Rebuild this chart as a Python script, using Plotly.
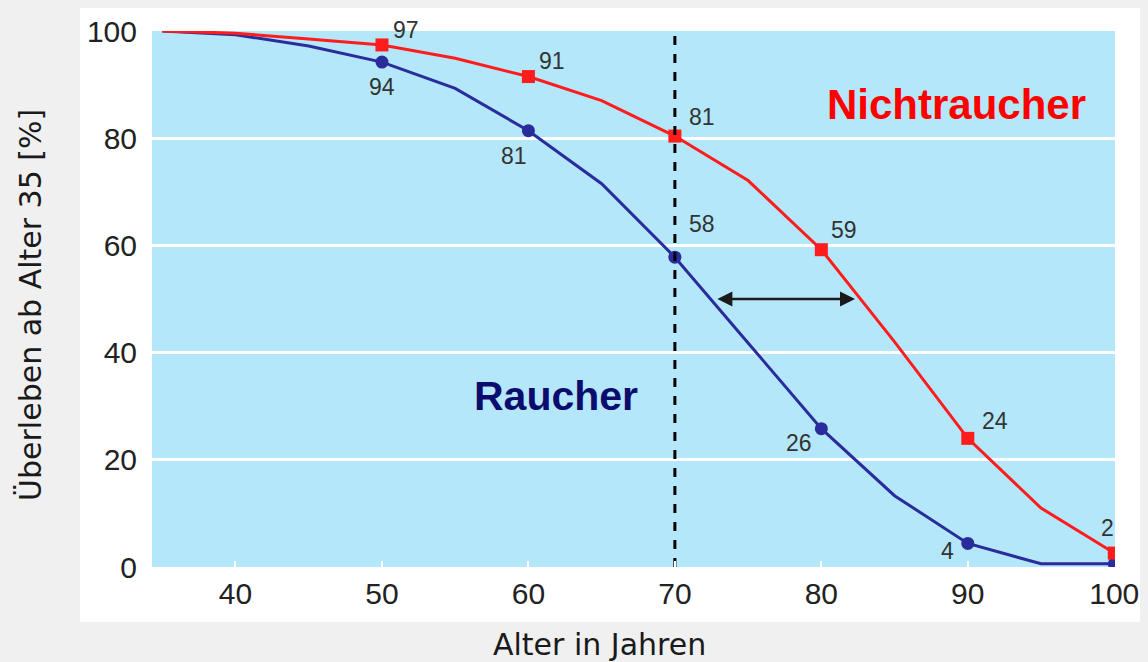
import plotly.graph_objects as go

# ---- data ----
ages = [35, 40, 45, 50, 55, 60, 65, 70, 75, 80, 85, 90, 95, 100]
nichtraucher = [100, 99.6, 98.5, 97.4, 94.9, 91.5, 87.0, 80.4, 72.1, 59.2, 42.0, 24.0, 11.0, 2.6]
raucher = [100, 99.3, 97.2, 94.2, 89.3, 81.4, 71.5, 57.8, 41.8, 25.8, 13.3, 4.4, 0.6, 0.6]
marker_ages = [50, 60, 70, 80, 90, 100]
nicht_labels = ["97", "91", "81", "59", "24", "2"]
raucher_label_ages = [50, 60, 70, 80, 90]
raucher_labels = ["94", "81", "58", "26", "4"]
x_ticks = [40, 50, 60, 70, 80, 90, 100]
y_ticks = [0, 20, 40, 60, 80, 100]

RED = "#ff1c1c"
BLUE = "#2b2c9b"
NAVY = "#0c0c6e"
PLOT_BG = "#b4e7f9"
PAGE_BG = "#f0f0f0"

fig = go.Figure()

def sizes(sz):
    return [sz if a in marker_ages else 0 for a in ages]

fig.add_trace(go.Scatter(
    x=ages, y=raucher, mode="lines+markers",
    line=dict(color=BLUE, width=3),
    marker=dict(symbol="circle", size=sizes(13), color=BLUE, opacity=1, line=dict(width=0)),
    showlegend=False, hoverinfo="skip"))
fig.add_trace(go.Scatter(
    x=ages, y=nichtraucher, mode="lines+markers",
    line=dict(color=RED, width=3),
    marker=dict(symbol="square", size=sizes(13), color=RED, opacity=1, line=dict(width=0)),
    showlegend=False, hoverinfo="skip"))

# dashed vertical line at 70
fig.add_trace(go.Scatter(
    x=[70, 70], y=[0, 100], mode="lines",
    line=dict(color="black", width=3, dash="dash"),
    showlegend=False, hoverinfo="skip"))

lab_font = dict(family="Liberation Sans, Arial, sans-serif", size=23, color="#333333")

nicht_offsets = [(24, 15), (24, 16), (27, 19), (23, 20), (27, 17), (-7, 25)]
for a, t, (dx, dy) in zip(marker_ages, nicht_labels, nicht_offsets):
    fig.add_annotation(x=a, y=nichtraucher[ages.index(a)], text=t, showarrow=False,
                       xshift=dx, yshift=dy, font=lab_font)

raucher_offsets = [(0, -25), (-14, -25), (27, 33), (-22, -14), (-20, -8)]
for a, t, (dx, dy) in zip(raucher_label_ages, raucher_labels, raucher_offsets):
    fig.add_annotation(x=a, y=raucher[ages.index(a)], text=t, showarrow=False,
                       xshift=dx, yshift=dy, font=lab_font)

# group labels
fig.add_annotation(x=89.2, y=86.2, text="<b>Nichtraucher</b>", showarrow=False,
                   font=dict(family="Liberation Sans, Arial, sans-serif", size=42, color="#ff0000"))
fig.add_annotation(x=61.9, y=31.9, text="<b>Raucher</b>", showarrow=False,
                   font=dict(family="Liberation Sans, Arial, sans-serif", size=41, color=NAVY))

# double-headed arrow
fig.add_annotation(x=82.3, y=50, ax=72.8, ay=50, xref="x", yref="y", axref="x", ayref="y",
                   text="", showarrow=True, arrowhead=2, startarrowhead=2,
                   arrowside="end+start", arrowsize=1.2, arrowwidth=2.5, arrowcolor="#1a1a1a")

# axis titles
title_font = dict(family="DejaVu Sans, Verdana, sans-serif", size=30, color="#1a1a1a")
fig.add_annotation(xref="paper", yref="paper", x=0.465, y=-0.1455, text="Alter in Jahren",
                   showarrow=False, font=title_font, xanchor="center", yanchor="middle")
fig.add_annotation(xref="paper", yref="paper", x=-0.1256, y=0.489, text="Überleben ab Alter 35 [%]",
                   showarrow=False, textangle=-90, font=title_font, xanchor="center", yanchor="middle")

# white panel behind chart, then the light-blue plotting area
fig.add_shape(type="rect", xref="paper", yref="paper", x0=-0.0748, x1=1.06, y0=-0.1026, y1=1.0466,
              fillcolor="white", line=dict(width=0), layer="below")
fig.add_shape(type="rect", xref="paper", yref="paper", x0=0, x1=1, y0=0, y1=1,
              fillcolor=PLOT_BG, line=dict(width=0), layer="below")

tick_font = dict(family="Liberation Sans, Arial, sans-serif", size=30, color="#222222")
fig.update_xaxes(range=[34.3, 100.05], tickvals=x_ticks, showgrid=False, zeroline=False,
                 ticks="inside", ticklen=6, tickwidth=2, tickcolor="white", automargin=False,
                 tickfont=tick_font, ticklabelstandoff=6, showline=False)
fig.update_yaxes(range=[0, 100], tickvals=y_ticks, showgrid=True, gridcolor="white", gridwidth=3,
                 zeroline=False, ticks="", tickfont=tick_font, ticklabelstandoff=14, showline=False,
                 automargin=False)

# the page body has an 8px margin, so the figure is offset by 8px
fig.update_layout(
    width=1148, height=662,
    margin=dict(l=144, r=41, t=23, b=103),
    plot_bgcolor="rgba(0,0,0,0)",
    paper_bgcolor=PAGE_BG,
)

fig.write_html("out.html", post_script="document.body.style.background='%s';" % PAGE_BG)
